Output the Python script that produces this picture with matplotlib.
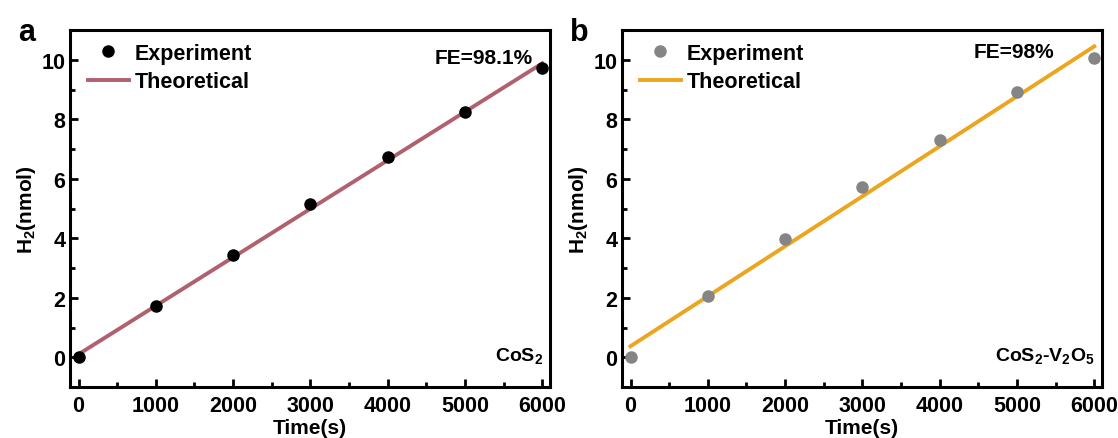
import matplotlib
matplotlib.use("Agg")
import matplotlib.pyplot as plt
from matplotlib.ticker import MultipleLocator

plt.rcParams["font.family"] = ["Liberation Sans", "DejaVu Sans"]
plt.rcParams["font.weight"] = "bold"
plt.rcParams["mathtext.fontset"] = "custom"
plt.rcParams["mathtext.rm"] = "Liberation Sans:bold"
plt.rcParams["mathtext.it"] = "Liberation Sans:bold"
plt.rcParams["mathtext.bf"] = "Liberation Sans:bold"
plt.rcParams["mathtext.default"] = "regular"

# data
time_s = [0, 1000, 2000, 3000, 4000, 5000, 6000]
h2_cos2 = [0.0, 1.72, 3.43, 5.15, 6.72, 8.25, 9.72]
h2_cos2_v2o5 = [0.0, 2.07, 3.97, 5.72, 7.30, 8.92, 10.05]
theo_t = [0, 6000]
theo_cos2 = [0.10, 9.88]
theo_cos2_v2o5 = [0.37, 10.45]

panels = [
    ("a", h2_cos2, theo_cos2, "black", "#B0606F", "FE=98.1%", (0.965, 0.924), "CoS$_2$"),
    ("b", h2_cos2_v2o5, theo_cos2_v2o5, "#858585", "#EBA51E", "FE=98%", (0.90, 0.94),
     "CoS$_2$-V$_2$O$_5$"),
]
positions = [
    [70 / 1118, 51 / 439, 480 / 1118, 357 / 439],
    [622 / 1118, 51 / 439, 480 / 1118, 357 / 439],
]

fig = plt.figure(figsize=(11.18, 4.39), dpi=100)

for (tag, exp, theo, mcol, lcol, fe, fe_xy, mat), pos in zip(panels, positions):
    ax = fig.add_axes(pos)
    ax.plot(theo_t, theo, color=lcol, lw=2.8, label="Theoretical", zorder=2)
    ax.plot(time_s, exp, "o", color=mcol, ms=8, label="Experiment", zorder=3)
    ax.set_xlim(-110, 6100)
    ax.set_ylim(-1, 11)
    ax.xaxis.set_major_locator(MultipleLocator(1000))
    ax.xaxis.set_minor_locator(MultipleLocator(500))
    ax.yaxis.set_major_locator(MultipleLocator(2))
    ax.yaxis.set_minor_locator(MultipleLocator(1))
    ax.tick_params(which="both", direction="in", width=2, labelsize=15.5)
    ax.tick_params(which="major", length=6)
    ax.tick_params(which="minor", length=3.5)
    ax.tick_params(axis="x", pad=6)
    for sp in ax.spines.values():
        sp.set_linewidth(2.2)
    ax.set_xlabel("Time(s)", fontsize=15, fontweight="bold", labelpad=1)
    ax.set_ylabel("H$_2$(nmol)", fontsize=15, fontweight="bold", labelpad=2)
    handles, labels = ax.get_legend_handles_labels()
    ax.legend(handles[::-1], labels[::-1], loc="upper left", frameon=False,
              bbox_to_anchor=(0.01, 1.0), handlelength=1.9, handletextpad=0.3,
              labelspacing=0.35, borderaxespad=0.2,
              prop={"weight": "bold", "size": 15.5})
    ax.text(fe_xy[0], fe_xy[1], fe, transform=ax.transAxes, ha="right", va="center",
            fontsize=15, fontweight="bold")
    ax.text(0.985, 0.09, mat, transform=ax.transAxes, ha="right", va="center",
            fontsize=14, fontweight="bold")
    fig.text(pos[0] - 52 / 1118, 0.925, tag, fontsize=22, fontweight="bold",
             ha="left", va="center")

fig.savefig("out.png", dpi=100)
